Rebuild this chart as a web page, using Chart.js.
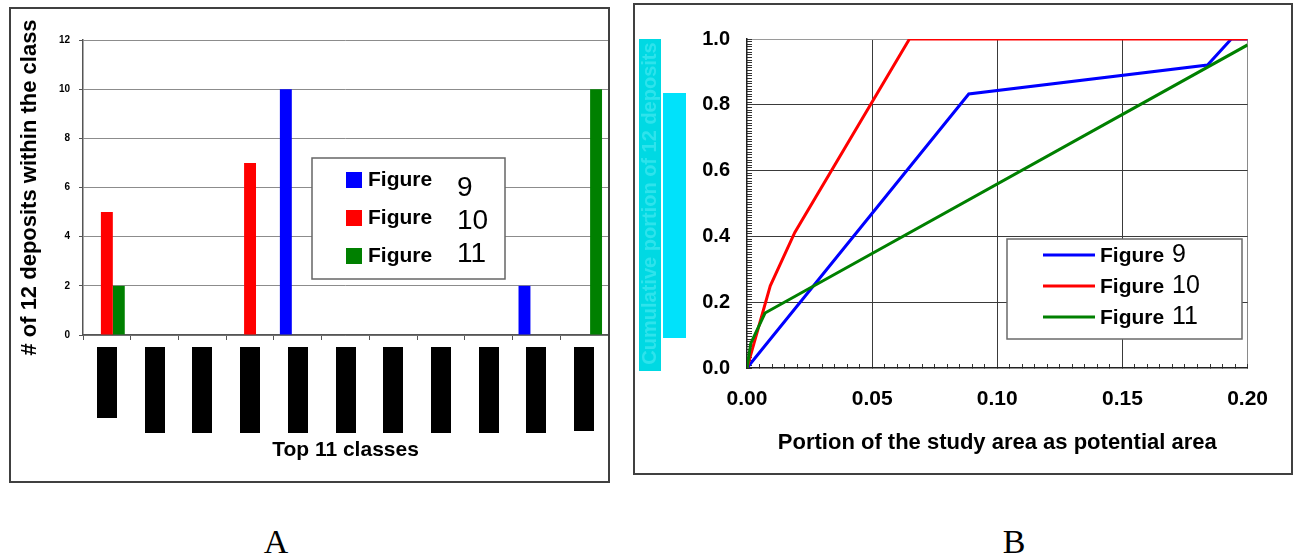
<!DOCTYPE html>
<html>
<head>
<meta charset="utf-8">
<script src="https://cdn.jsdelivr.net/npm/chart.js@4.4.1/dist/chart.umd.min.js"></script>
<style>
  html, body { margin: 0; padding: 0; background: #fff; }
  body { width: 1300px; height: 558px; position: relative; overflow: hidden; }
  .panel { position: absolute; box-sizing: border-box; border: 2px solid #404040; }
  #panelA { left: 9px; top: 7px; width: 601px; height: 476px; }
  #panelB { left: 633px; top: 3px; width: 660px; height: 472px; }
  .panel canvas { display: block; }
  .tag { position: absolute; top: 525px; width: 60px; text-align: center;
         font-family: "Liberation Serif", "Times New Roman", serif; font-size: 34px; line-height: 34px; }
</style>
</head>
<body>
<div class="panel" id="panelA"><canvas id="classChart" width="597" height="472"></canvas></div>
<div class="panel" id="panelB"><canvas id="cumulativeChart" width="656" height="468"></canvas></div>
<div class="tag" style="left:246px">A</div>
<div class="tag" style="left:984px">B</div>
<script>
// ---- data ----
const classLabels = ["Class 1", "Class 2", "Class 3", "Class 4", "Class 5", "Class 6",
                     "Class 7", "Class 8", "Class 9", "Class 10", "Class 11"];
const fig9Counts  = [0, 0, 0, 0, 10, 0, 0, 0, 0, 2, 0];
const fig10Counts = [5, 0, 0, 7, 0, 0, 0, 0, 0, 0, 0];
const fig11Counts = [2, 0, 0, 0, 0, 0, 0, 0, 0, 0, 10];
const countTicks = [0, 2, 4, 6, 8, 10, 12];

// [portion of study area, cumulative portion of deposits]
const fig9Curve  = [[0, 0], [0.0886, 0.833], [0.184, 0.921], [0.1935, 1.0], [0.2, 1.0]];
const fig10Curve = [[0, 0], [0.0093, 0.25], [0.0191, 0.412], [0.0649, 1.0], [0.2, 1.0]];
const fig11Curve = [[0, 0], [0.0015, 0.075], [0.0072, 0.167], [0.2, 0.982]];
const portionTicks = [0, 0.05, 0.10, 0.15, 0.20];
const cumulativeTicks = [0, 0.2, 0.4, 0.6, 0.8, 1.0];

const BLUE = "#0000ff", RED = "#ff0000", GREEN = "#008000";

Chart.defaults.font.family = '"Liberation Sans", Arial, sans-serif';
Chart.defaults.color = "#000";
Chart.defaults.animation = false;
Chart.defaults.plugins.legend.display = false;
Chart.defaults.plugins.tooltip.enabled = false;

const isOn = (v, list) => list.some(t => Math.abs(v - t) < 1e-6);
const clear = "rgba(0,0,0,0)";

// legend drawn as a framed box inside the plot, "Figure" bold + number plain
const boxLegend = {
  id: "boxLegend",
  afterDatasetsDraw(chart, args, o) {
    const { ctx, chartArea: ca } = chart;
    const x0 = ca.left + o.dx, y0 = ca.top + o.dy;
    ctx.save();
    ctx.fillStyle = "#fff";
    ctx.fillRect(x0, y0, o.w, o.h);
    ctx.strokeStyle = o.border;
    ctx.lineWidth = 1.5;
    ctx.strokeRect(x0, y0, o.w, o.h);
    ctx.textBaseline = "alphabetic";
    chart.data.datasets.forEach((ds, i) => {
      const [word, num] = ds.label.split(" ");
      const cy = y0 + o.rowTop + i * o.rowGap;
      if (o.marker === "box") {
        ctx.fillStyle = ds.backgroundColor;
        ctx.fillRect(x0 + o.markerX, cy - 8, 16, 16);
      } else {
        ctx.strokeStyle = ds.borderColor;
        ctx.lineWidth = 3;
        ctx.beginPath();
        ctx.moveTo(x0 + o.markerX, cy);
        ctx.lineTo(x0 + o.markerX + o.markerW, cy);
        ctx.stroke();
      }
      ctx.fillStyle = "#000";
      ctx.font = o.wordFont;
      ctx.fillText(word, x0 + o.wordX, cy + o.wordBase);
      ctx.font = o.numFont;
      ctx.fillText(num, x0 + o.numX, y0 + o.numTop + i * o.numGap);
    });
    ctx.restore();
  }
};

// category names are blacked out in the source
const hiddenLabels = {
  id: "hiddenLabels",
  afterDraw(chart, args, o) {
    const { ctx } = chart;
    const xs = chart.scales.x;
    ctx.save();
    ctx.fillStyle = "#000";
    classLabels.forEach((_, i) => {
      const px = xs.getPixelForValue(i);
      ctx.fillRect(Math.round(px - 10), xs.top + 12, 20, o.heights[i]);
    });
    ctx.restore();
  }
};

// cyan highlight behind the y axis title of panel B
const titleHighlight = {
  id: "titleHighlight",
  beforeDraw(chart) {
    const { ctx, chartArea: ca } = chart;
    ctx.save();
    ctx.fillStyle = "#00d9e3";
    ctx.fillRect(4, ca.top, 22, ca.bottom - ca.top + 3);
    ctx.fillStyle = "#00e2fb";
    ctx.fillRect(28, ca.top + 54, 23, 245);
    ctx.restore();
  }
};

// ---- A: bar chart ----
new Chart(document.getElementById("classChart"), {
  type: "bar",
  data: {
    labels: classLabels,
    datasets: [
      { label: "Figure 9", data: fig9Counts, backgroundColor: BLUE },
      { label: "Figure 10", data: fig10Counts, backgroundColor: RED },
      { label: "Figure 11", data: fig11Counts, backgroundColor: GREEN }
    ]
  },
  plugins: [boxLegend, hiddenLabels],
  options: {
    responsive: false,
    barPercentage: 1,
    categoryPercentage: 0.75,
    layout: { padding: { top: 31, right: 0, left: 0, bottom: 0 } },
    scales: {
      x: {
        afterFit: s => { s.height = 146; },
        ticks: { display: false },
        grid: { drawOnChartArea: false, drawTicks: true, tickLength: 5, color: "#555", offset: true },
        border: { color: "#555", width: 1.5 },
        title: { display: true, text: "Top 11 classes", font: { size: 21, weight: "bold" },
                 padding: { top: 0, bottom: 18 } }
      },
      y: {
        min: 0, max: 12,
        afterFit: s => { s.width = 72; },
        afterBuildTicks: s => { s.ticks = countTicks.map(v => ({ value: v })); },
        ticks: { font: { size: 10, weight: "bold" }, padding: 9 },
        grid: { color: "#8c8c8c", tickColor: "#555", tickLength: 4 },
        border: { color: "#555", width: 1.5 },
        title: { display: true, text: "# of 12 deposits within the class",
                 font: { size: 22, weight: "bold" }, padding: { top: 6, bottom: 0 } }
      }
    },
    plugins: {
      boxLegend: {
        dx: 229, dy: 118, w: 193, h: 121, border: "#666",
        marker: "box", markerX: 34, rowTop: 22, rowGap: 38,
        wordX: 56, wordBase: 6, wordFont: 'bold 21px "Liberation Sans", Arial',
        numX: 145, numTop: 38, numGap: 33, numFont: '28px "Liberation Sans", Arial'
      },
      hiddenLabels: { heights: [71, 86, 86, 86, 86, 86, 86, 86, 86, 86, 84] }
    }
  }
});

// ---- B: cumulative curves ----
const toXY = arr => arr.map(([x, y]) => ({ x, y }));

new Chart(document.getElementById("cumulativeChart"), {
  type: "line",
  data: {
    datasets: [
      { label: "Figure 9", data: toXY(fig9Curve), borderColor: BLUE, order: 3 },
      { label: "Figure 10", data: toXY(fig10Curve), borderColor: RED, order: 2 },
      { label: "Figure 11", data: toXY(fig11Curve), borderColor: GREEN, order: 1 }
    ]
  },
  plugins: [titleHighlight, boxLegend],
  options: {
    responsive: false,
    elements: {
      line: { borderWidth: 3, tension: 0, fill: false },
      point: { radius: 0 }
    },
    layout: { padding: { top: 18, right: 21, left: 0, bottom: 0 } },
    scales: {
      x: {
        type: "linear", min: 0, max: 0.2,
        afterFit: s => { s.height = 105; },
        ticks: {
          stepSize: 0.005, autoSkip: false, maxRotation: 0, padding: 23,
          font: { size: 21, weight: "bold" },
          callback: v => isOn(v, portionTicks) ? v.toFixed(2) : ""
        },
        grid: {
          color: c => (c.tick && c.tick.value > 1e-6 && isOn(c.tick.value, portionTicks))
            ? (c.tick.value > 0.199 ? "#8a8a8a" : "#3a3a3a") : clear,
          tickColor: "#333", tickLength: -4
        },
        border: { color: "#222", width: 1.5 },
        title: { display: true, text: "Portion of the study area as potential area",
                 font: { size: 22, weight: "bold" }, padding: { top: 0, bottom: 17 } }
      },
      y: {
        min: 0, max: 1,
        afterFit: s => { s.width = 112; },
        ticks: {
          stepSize: 0.008, autoSkip: false, padding: 22,
          font: { size: 20, weight: "bold" },
          callback: v => isOn(v, cumulativeTicks) ? v.toFixed(1) : ""
        },
        grid: {
          color: c => (c.tick && c.tick.value > 1e-6 && isOn(c.tick.value, cumulativeTicks))
            ? (c.tick.value > 0.999 ? "#9a9a9a" : "#3a3a3a") : clear,
          tickColor: "#333", tickLength: -5
        },
        border: { color: "#222", width: 1.5 },
        title: { display: true, text: "Cumulative portion of 12 deposits", color: "#2ee3ec",
                 font: { size: 20, weight: "bold" }, padding: { top: 3, bottom: 0 } }
      }
    },
    plugins: {
      boxLegend: {
        dx: 260, dy: 200, w: 235, h: 100, border: "#6a6a6a",
        marker: "line", markerX: 36, markerW: 52, rowTop: 16, rowGap: 31,
        wordX: 93, wordBase: 7, wordFont: 'bold 21px "Liberation Sans", Arial',
        numX: 165, numTop: 23, numGap: 31, numFont: '25px "Liberation Sans", Arial'
      }
    }
  }
});
</script>
</body>
</html>
